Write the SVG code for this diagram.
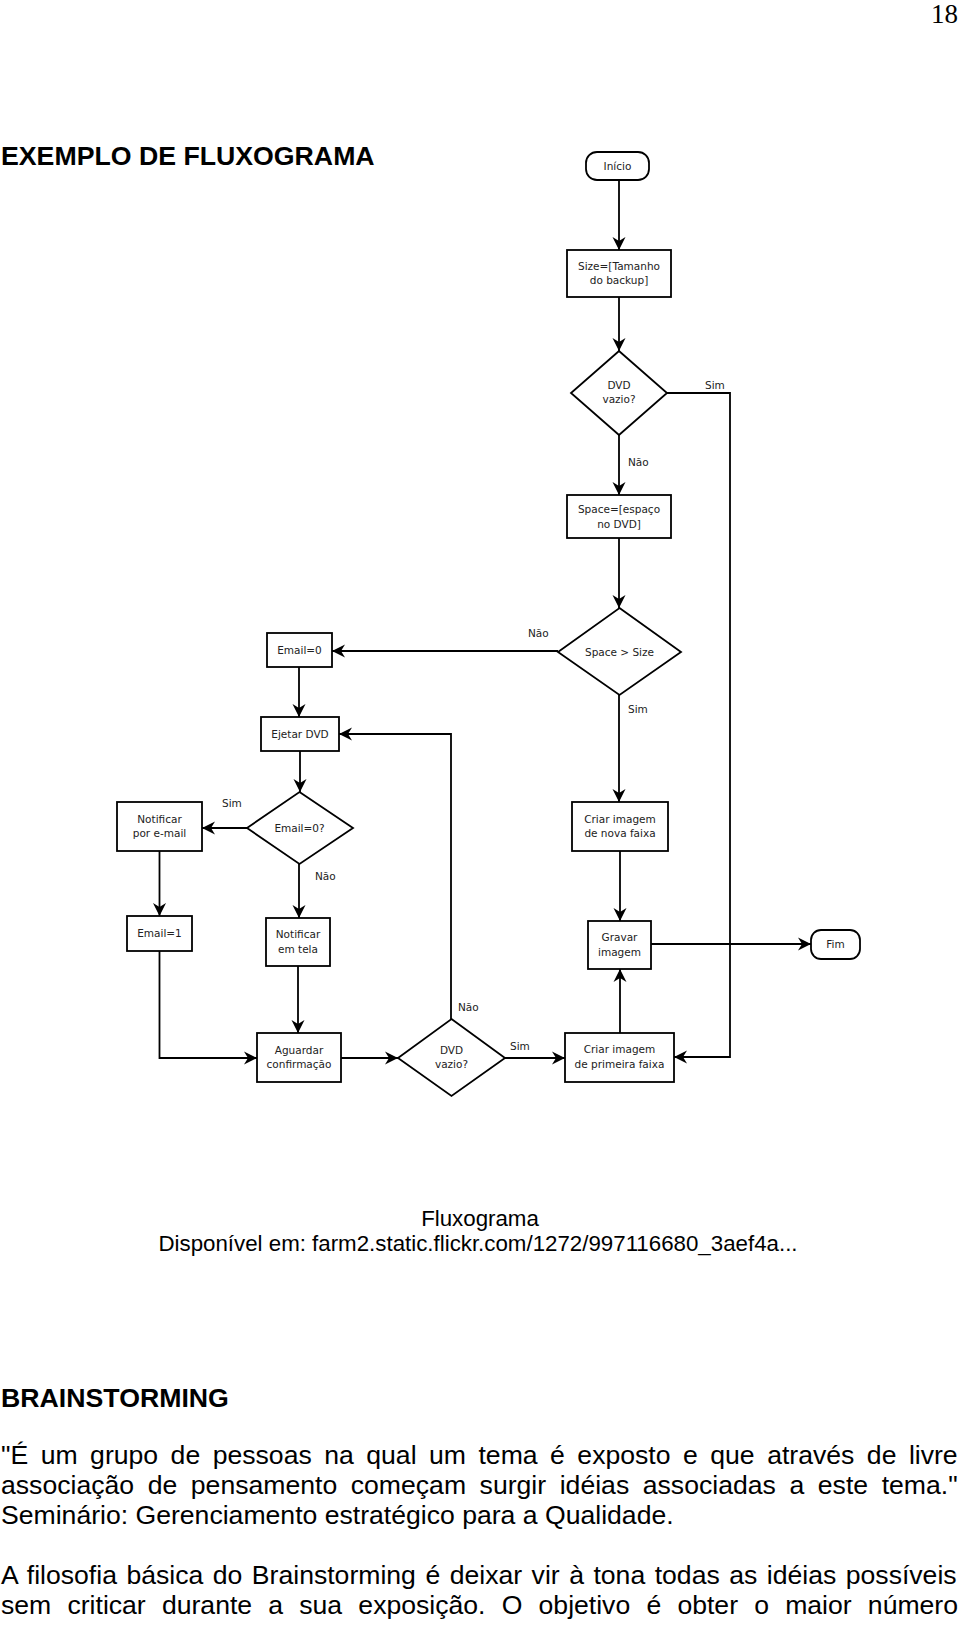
<svg xmlns="http://www.w3.org/2000/svg" width="960" height="1630" viewBox="0 0 960 1630">
<style>
.bg{fill:#fff}
.box{fill:#fff;stroke:#000;stroke-width:1.8}
.ln{fill:none;stroke:#000;stroke-width:1.8}
.ft{font-family:"DejaVu Sans",Verdana,sans-serif;font-size:10.5px;fill:#222;text-anchor:middle}
.lb{font-family:"DejaVu Sans",Verdana,sans-serif;font-size:10.5px;fill:#222}
.h{font-family:"Liberation Sans",Arial,sans-serif;font-size:26.7px;font-weight:bold;fill:#000}
.p{font-family:"Liberation Sans",Arial,sans-serif;font-size:26.6px;fill:#000}
.cap{font-family:"Liberation Sans",Arial,sans-serif;font-size:22.3px;fill:#000;text-anchor:middle}
</style>
<defs>
<marker id="arr" viewBox="-14 -8 16 16" refX="0" refY="0" markerWidth="16" markerHeight="16" markerUnits="userSpaceOnUse" orient="auto">
<path d="M0,0 L-13,-6.5 L-9,0 L-13,6.5 Z" fill="#000"/>
</marker>
</defs>
<rect class="bg" x="0" y="0" width="960" height="1630"/>
<text x="958" y="23" style="font-family:'Liberation Serif','Times New Roman',serif;font-size:27px;text-anchor:end">18</text>
<text class="h" x="1" y="165">EXEMPLO DE FLUXOGRAMA</text>

<g id="connectors">
<path class="ln" marker-end="url(#arr)" d="M619,180 V250"/>
<path class="ln" marker-end="url(#arr)" d="M619,297 V351"/>
<path class="ln" marker-end="url(#arr)" d="M619,435 V495"/>
<path class="ln" marker-end="url(#arr)" d="M619,538 V608"/>
<path class="ln" marker-end="url(#arr)" d="M619,695 V802"/>
<path class="ln" marker-end="url(#arr)" d="M620,851 V921"/>
<path class="ln" marker-end="url(#arr)" d="M651,944 H811"/>
<path class="ln" marker-end="url(#arr)" d="M620,1033 V969"/>
<path class="ln" marker-end="url(#arr)" d="M667,393 H730 V1057 H674"/>
<path class="ln" marker-end="url(#arr)" d="M558,651 H332"/>
<path class="ln" marker-end="url(#arr)" d="M299,667 V717"/>
<path class="ln" marker-end="url(#arr)" d="M300,751 V792"/>
<path class="ln" marker-end="url(#arr)" d="M451,1019 V734 H339"/>
<path class="ln" marker-end="url(#arr)" d="M247,828 H202"/>
<path class="ln" marker-end="url(#arr)" d="M159.5,851 V916"/>
<path class="ln" marker-end="url(#arr)" d="M159.5,951 V1058 H257"/>
<path class="ln" marker-end="url(#arr)" d="M299,864 V918"/>
<path class="ln" marker-end="url(#arr)" d="M298,966 V1033"/>
<path class="ln" marker-end="url(#arr)" d="M341,1058 H398"/>
<path class="ln" marker-end="url(#arr)" d="M505,1058 H565"/>
<text class="lb" x="705" y="389">Sim</text>
<text class="lb" x="628" y="466">Não</text>
<text class="lb" x="528" y="637">Não</text>
<text class="lb" x="628" y="713">Sim</text>
<text class="lb" x="222" y="807">Sim</text>
<text class="lb" x="315" y="880">Não</text>
<text class="lb" x="458" y="1011">Não</text>
<text class="lb" x="510" y="1050">Sim</text>
</g>

<g id="inicio">
<rect class="box" x="586" y="152" width="63" height="28" rx="11"/>
<text class="ft" x="617.5" y="170">Início</text>
</g>
<g id="size">
<rect class="box" x="567" y="250" width="104" height="47"/>
<text class="ft" x="619" y="270">Size=[Tamanho</text>
<text class="ft" x="619" y="284">do backup]</text>
</g>
<g id="dvd-vazio-1">
<polygon class="box" points="619,351 667,393 619,435 571,393"/>
<text class="ft" x="619" y="389">DVD</text>
<text class="ft" x="619" y="403">vazio?</text>
</g>
<g id="space">
<rect class="box" x="567" y="495" width="104" height="43"/>
<text class="ft" x="619" y="513">Space=[espaço</text>
<text class="ft" x="619" y="528">no DVD]</text>
</g>
<g id="space-size">
<polygon class="box" points="619.5,608 681,652 619.5,695 558,652"/>
<text class="ft" x="619.5" y="656">Space &gt; Size</text>
</g>
<g id="criar-nova">
<rect class="box" x="572" y="802" width="96" height="49"/>
<text class="ft" x="620" y="823">Criar imagem</text>
<text class="ft" x="620" y="837">de nova faixa</text>
</g>
<g id="gravar">
<rect class="box" x="588" y="921" width="63" height="48"/>
<text class="ft" x="619.5" y="941">Gravar</text>
<text class="ft" x="619.5" y="956">imagem</text>
</g>
<g id="fim">
<rect class="box" x="811" y="930" width="49" height="29" rx="10"/>
<text class="ft" x="835.5" y="948">Fim</text>
</g>
<g id="criar-primeira">
<rect class="box" x="565" y="1033" width="109" height="49"/>
<text class="ft" x="619.5" y="1053">Criar imagem</text>
<text class="ft" x="619.5" y="1068">de primeira faixa</text>
</g>
<g id="email0">
<rect class="box" x="267" y="633" width="65" height="34"/>
<text class="ft" x="299.5" y="654">Email=0</text>
</g>
<g id="ejetar">
<rect class="box" x="261" y="717" width="78" height="34"/>
<text class="ft" x="300" y="738">Ejetar DVD</text>
</g>
<g id="email0-q">
<polygon class="box" points="299.5,792 353,828 299.5,864 247,828"/>
<text class="ft" x="299.5" y="832">Email=0?</text>
</g>
<g id="notificar-email">
<rect class="box" x="117" y="802" width="85" height="49"/>
<text class="ft" x="159.5" y="823">Notificar</text>
<text class="ft" x="159.5" y="837">por e-mail</text>
</g>
<g id="email1">
<rect class="box" x="127" y="916" width="65" height="35"/>
<text class="ft" x="159.5" y="937">Email=1</text>
</g>
<g id="notificar-tela">
<rect class="box" x="266" y="918" width="64" height="48"/>
<text class="ft" x="298" y="938">Notificar</text>
<text class="ft" x="298" y="953">em tela</text>
</g>
<g id="aguardar">
<rect class="box" x="257" y="1033" width="84" height="49"/>
<text class="ft" x="299" y="1054">Aguardar</text>
<text class="ft" x="299" y="1068">confirmação</text>
</g>
<g id="dvd-vazio-2">
<polygon class="box" points="451.5,1019 505,1058 451.5,1096 398,1058"/>
<text class="ft" x="451.5" y="1054">DVD</text>
<text class="ft" x="451.5" y="1068">vazio?</text>
</g>

<text class="cap" x="480" y="1226">Fluxograma</text>
<text class="cap" x="478" y="1251">Disponível em: farm2.static.flickr.com/1272/997116680_3aef4a...</text>

<text class="h" x="1" y="1407">BRAINSTORMING</text>
<text class="p" x="1" y="1464" style="word-spacing:5.1px">"É um grupo de pessoas na qual um tema é exposto e que através de livre</text>
<text class="p" x="1" y="1494" style="word-spacing:6.2px">associação de pensamento começam surgir idéias associadas a este tema."</text>
<text class="p" x="1" y="1524">Seminário: Gerenciamento estratégico para a Qualidade.</text>
<text class="p" x="1" y="1584" style="word-spacing:2.1px">A filosofia básica do Brainstorming é deixar vir à tona todas as idéias possíveis</text>
<text class="p" x="1" y="1614" style="word-spacing:8.8px">sem criticar durante a sua exposição. O objetivo é obter o maior número</text>
</svg>
